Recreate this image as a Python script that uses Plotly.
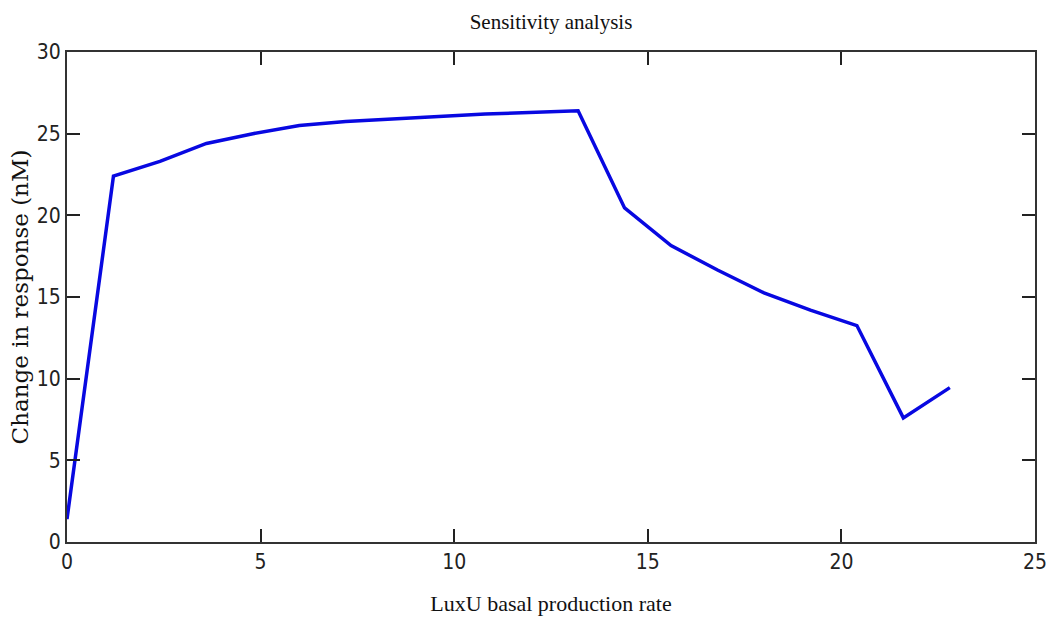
import plotly.graph_objects as go

# Data
production_rate = [0.0, 1.2, 2.4, 3.6, 4.8, 6.0, 7.2, 8.4, 9.6, 10.8,
                   12.0, 13.2, 14.4, 15.6, 16.8, 18.0, 19.2, 20.4, 21.6, 22.8]
response_change = [1.4, 22.4, 23.3, 24.4, 25.0, 25.5, 25.75, 25.92, 26.05, 26.2,
                   26.28, 26.4, 20.45, 18.15, 16.65, 15.25, 14.2, 13.25, 7.6, 9.45]

x_ticks = [0, 5, 10, 15, 20, 25]
y_ticks = [0, 5, 10, 15, 20, 25, 30]

fig = go.Figure()
fig.add_trace(go.Scatter(
    x=production_rate, y=response_change, mode="lines",
    line=dict(color="rgb(8,8,225)", width=3.5),
    showlegend=False,
))

axis_common = dict(
    showline=True, linecolor="#333333", linewidth=2, mirror="ticks",
    ticks="inside", ticklen=13, tickwidth=2, tickcolor="#222222",
    showgrid=False, zeroline=False, automargin=False,
    tickfont=dict(family="DejaVu Sans Condensed, DejaVu Sans", size=21, color="#222222"),
)

fig.update_layout(
    width=1050, height=623,
    margin=dict(l=67, r=15, t=52, b=81),
    paper_bgcolor="white", plot_bgcolor="white",
    title=dict(text="Sensitivity analysis", x=(67 + 1035) / 2 / 1050, xanchor="center",
               yref="container", y=1 - 22 / 623, yanchor="middle",
               font=dict(family="Liberation Serif", size=21, color="#111111")),
    xaxis=dict(range=[0, 25], tickvals=x_ticks, ticktext=[str(v) for v in x_ticks],
               title=dict(text="LuxU basal production rate", standoff=22,
                          font=dict(family="Liberation Serif", size=22, color="#111111")),
               **axis_common),
    yaxis=dict(range=[0, 30], tickvals=y_ticks, ticktext=[str(v) for v in y_ticks],
               title=dict(text="Change in response (nM)", standoff=2,
                          font=dict(family="DejaVu Serif", size=23, color="#111111")),
               **axis_common),
)

fig.write_html("out.html")
